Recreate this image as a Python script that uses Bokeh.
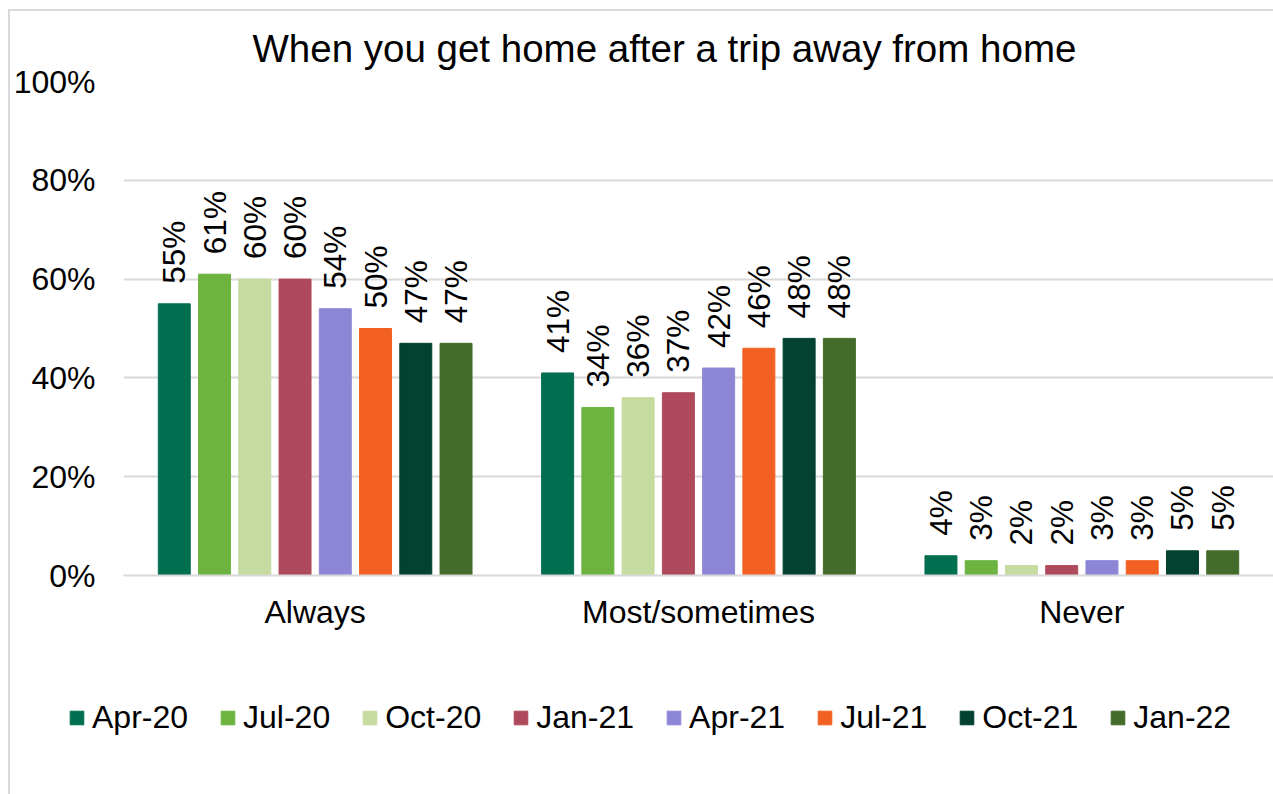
import math
from bokeh.plotting import figure
from bokeh.layouts import column
from bokeh.models import (ColumnDataSource, FactorRange, Range1d, Legend, LegendItem,
                          PrintfTickFormatter, FixedTicker)
from bokeh.transform import dodge
from bokeh.core.properties import value
from bokeh.embed import file_html
from bokeh.resources import INLINE

# ---- data ----
categories = ["Always", "Most/sometimes", "Never"]
waves = ["Apr-20", "Jul-20", "Oct-20", "Jan-21", "Apr-21", "Jul-21", "Oct-21", "Jan-22"]
apr20 = [55, 41, 4]
jul20 = [61, 34, 3]
oct20 = [60, 36, 2]
jan21 = [60, 37, 2]
apr21 = [54, 42, 3]
jul21 = [50, 46, 3]
oct21 = [47, 48, 5]
jan22 = [47, 48, 5]
series_values = [apr20, jul20, oct20, jan21, apr21, jul21, oct21, jan22]
colors = ["#006F50", "#6DB33F", "#C5DBA0", "#AE4A5B", "#8D86D7", "#F26122", "#034130", "#436B2A"]
y_ticks = [0, 20, 40, 60, 80, 100]

FONT = "Liberation Sans"

p = figure(x_range=FactorRange(factors=categories), y_range=Range1d(0, 100),
           width=1263, height=654, output_backend="svg", toolbar_location=None,
           min_border_left=112, min_border_right=0, min_border_top=70, min_border_bottom=90,
           frame_align=False)

# legend-only figure (same data, glyphs kept outside its visible range)
leg = figure(x_range=FactorRange(factors=categories), y_range=Range1d(1000, 1001),
             width=1263, height=129, output_backend="svg", toolbar_location=None,
             x_axis_location=None, y_axis_location=None, min_border=0, frame_align=False)
leg.grid.visible = False
leg.outline_line_color = None

pitch = 0.105
bw = 0.0834
leg_renderers = []
for j, (name, vals, col) in enumerate(zip(waves, series_values, colors)):
    src = ColumnDataSource(dict(cat=categories, val=vals, lab=[f"{v}%" for v in vals]))
    off = (j - (len(waves) - 1) / 2) * pitch
    p.vbar(x=dodge("cat", off, range=p.x_range), top="val", width=bw, source=src,
           fill_color=col, line_color=col)
    p.text(x=dodge("cat", off, range=p.x_range), y="val", text="lab", source=src,
           angle=math.pi / 2, text_align="left", text_baseline="middle", y_offset=-20,
           text_font=value(FONT), text_font_size="31.5px", text_color="black")
    lr = leg.vbar(x=dodge("cat", off, range=leg.x_range), top="val", width=bw, source=src,
                  fill_color=col, line_color=col)
    leg_renderers.append(lr)

legend = Legend(items=[LegendItem(label=w, renderers=[r]) for w, r in zip(waves, leg_renderers)],
                orientation="horizontal", location=(58, 58), glyph_width=17, glyph_height=17,
                label_standoff=7, spacing=31, padding=0, margin=0, border_line_color=None,
                background_fill_alpha=0, label_text_font_size="32px", label_text_font=FONT,
                label_text_color="black")
leg.add_layout(legend, "center")

p.title.text = "When you get home after a trip away from home"
p.title.text_font = FONT
p.title.text_font_size = "38.5px"
p.title.text_font_style = "normal"
p.title.text_color = "black"
p.title.align = "left"
p.title.offset = 129
p.title.standoff = 23

p.xaxis.major_tick_line_color = None
p.xaxis.minor_tick_line_color = None
p.xaxis.axis_line_color = "#d9d9d9"
p.xaxis.axis_line_width = 2
p.xaxis.major_label_standoff = 12
p.xaxis.major_label_text_font = FONT
p.xaxis.major_label_text_font_size = "32px"
p.xaxis.major_label_text_color = "black"

p.yaxis.ticker = FixedTicker(ticks=y_ticks)
p.yaxis.formatter = PrintfTickFormatter(format="%d%%")
p.yaxis.axis_line_color = None
p.yaxis.major_tick_line_color = None
p.yaxis.minor_tick_line_color = None
p.yaxis.major_label_standoff = 22
p.yaxis.major_label_text_font = FONT
p.yaxis.major_label_text_font_size = "32px"
p.yaxis.major_label_text_color = "black"

p.xgrid.grid_line_color = None
p.ygrid.grid_line_color = "#d9d9d9"
p.ygrid.grid_line_width = 2
p.outline_line_color = None

layout = column(p, leg, spacing=0,
                styles={"margin-left": "8px", "margin-top": "9px",
                        "border-left": "2px solid #d9d9d9", "border-top": "2px solid #d9d9d9"})

open("out.html", "w").write(file_html(layout, INLINE))
